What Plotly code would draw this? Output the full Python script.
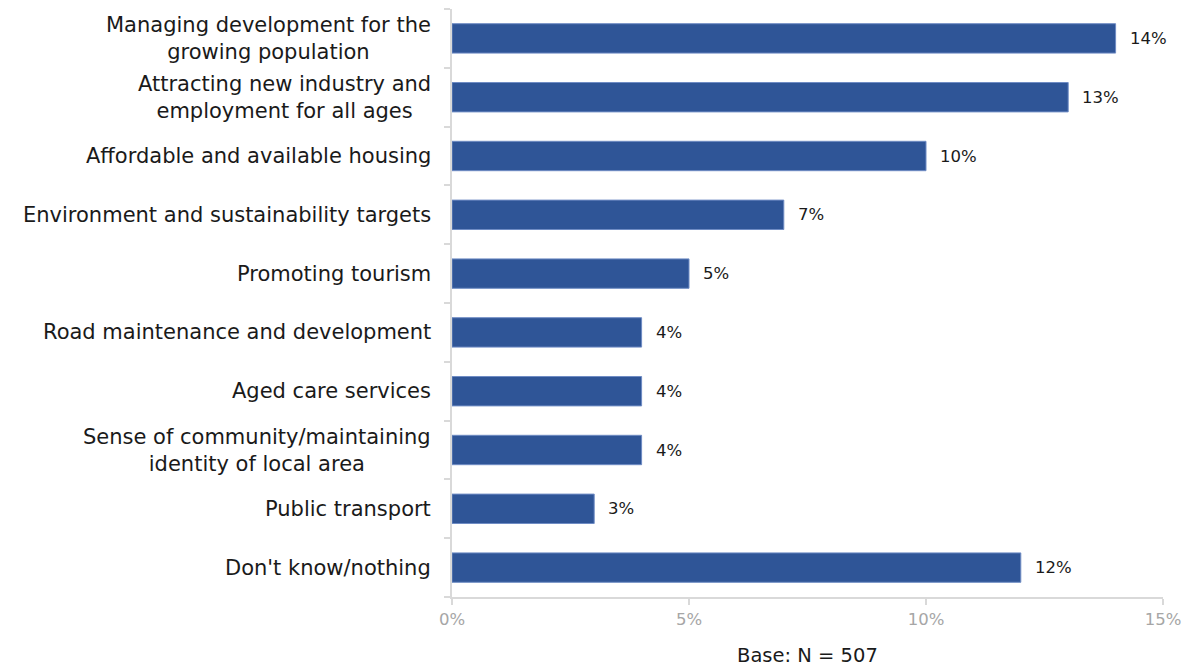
import plotly.graph_objects as go

categories = [
    "Managing development for the<br>growing population",
    "Attracting new industry and<br>employment for all ages",
    "Affordable and available housing",
    "Environment and sustainability targets",
    "Promoting tourism",
    "Road maintenance and development",
    "Aged care services",
    "Sense of community/maintaining<br>identity of local area",
    "Public transport",
    "Don't know/nothing",
]
values = [14, 13, 10, 7, 5, 4, 4, 4, 3, 12]
x_ticks = [0, 5, 10, 15]
x_tick_labels = ["0%", "5%", "10%", "15%"]
base_note = "Base: N = 507"

FONT = "DejaVu Sans"
BAR = "#2F5597"
AXIS = "#D9D9D9"

fig = go.Figure(
    go.Bar(
        x=values,
        y=list(range(len(categories))),
        orientation="h",
        marker=dict(color=BAR, line=dict(color="#6F8CC4", width=1)),
        width=0.5,
        hoverinfo="skip",
    )
)

annotations = []
# category labels, centred per line, right-aligned against the axis
for i, c in enumerate(categories):
    annotations.append(dict(
        x=0, xref="paper", y=i, yref="y", text=c, showarrow=False,
        xanchor="right", yanchor="middle", align="center", xshift=-19,
        font=dict(family=FONT, size=21, color="#1a1a1a"),
    ))
# value labels at the end of each bar
for i, v in enumerate(values):
    annotations.append(dict(
        x=v, xref="x", y=i, yref="y", text=f"{v}%", showarrow=False,
        xanchor="left", yanchor="middle", xshift=12,
        font=dict(family=FONT, size=16.5, color="#1a1a1a"),
    ))
# base size note under the value axis
annotations.append(dict(
    x=0.5, xref="paper", y=0, yref="paper", text=base_note, showarrow=False,
    xanchor="center", yanchor="middle", yshift=-58,
    font=dict(family=FONT, size=19.5, color="#1a1a1a"),
))

fig.update_layout(
    width=1191, height=666,
    margin=dict(l=452, r=28, t=9, b=69),
    paper_bgcolor="white", plot_bgcolor="white",
    showlegend=False,
    font=dict(family=FONT),
    annotations=annotations,
    xaxis=dict(
        range=[0, 15], tickvals=x_ticks, ticktext=x_tick_labels,
        showgrid=False, zeroline=False, automargin=False,
        showline=True, linecolor=AXIS, linewidth=1.5,
        ticks="outside", ticklen=6, tickcolor=AXIS, tickwidth=1.5,
        tickfont=dict(family=FONT, size=16.5, color="#A6A6A6"),
    ),
    yaxis=dict(
        range=[len(categories) - 0.5, -0.5],
        tickvals=[i + 0.5 for i in range(-1, len(categories))],
        showticklabels=False, automargin=False,
        showgrid=False, zeroline=False,
        showline=True, linecolor=AXIS, linewidth=1.5,
        ticks="outside", ticklen=6, tickcolor=AXIS, tickwidth=1.5,
    ),
)

fig.write_html("out.html")
